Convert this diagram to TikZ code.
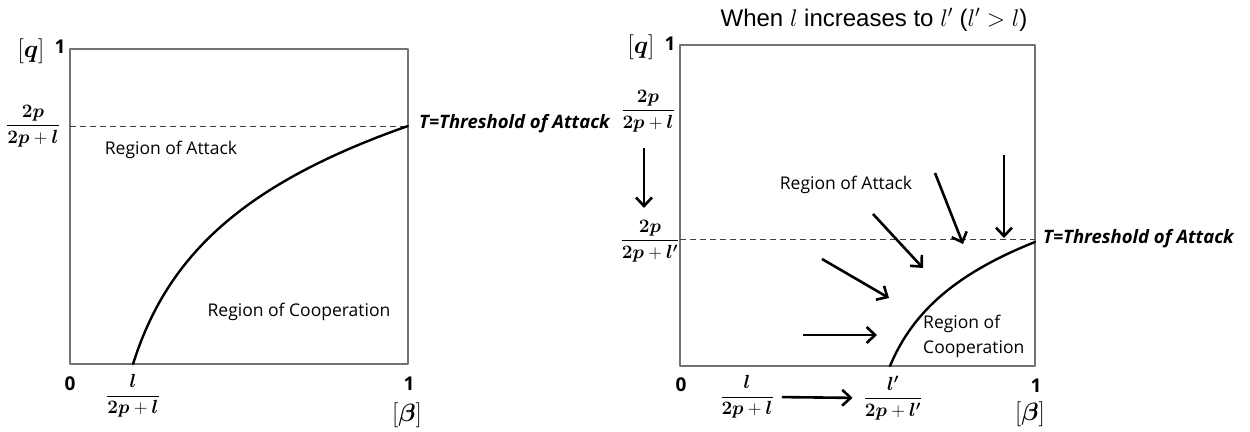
\RequirePackage{fix-cm}
\documentclass[tikz,border=0pt]{standalone}
\usepackage{amsmath,bm}
\usepackage{fontspec}
\setmainfont{Open Sans}
\newfontfamily\arialfont{Liberation Sans}
\usetikzlibrary{arrows.meta}

\tikzset{
  region/.style={anchor=center,inner sep=0pt,font=\fontsize{17.5}{25}\selectfont},
  thresh/.style={anchor=west,inner sep=0pt,font=\fontsize{18.5}{22}\selectfont\bfseries\itshape},
  tick/.style={anchor=center,inner sep=0pt,font=\fontsize{19}{22}\selectfont\bfseries},
  fracl/.style={anchor=center,inner sep=0pt,font=\fontsize{19}{22}\selectfont},
  axisl/.style={anchor=center,inner sep=0pt,font=\fontsize{25}{30}\selectfont},
  frame/.style={draw=black!55,line width=1.2pt},
  thr/.style={draw=black!75,line width=1pt,dash pattern=on 6pt off 4pt},
  curve/.style={line width=2.4pt,line cap=round},
  move/.style={line width=2.6pt,-{Straight Barb[length=8.5pt,width=16pt]}},
}

\begin{document}
\begin{tikzpicture}[x=1pt, y=-1pt, line join=round]

  %% ==== left panel ====
  \draw[frame] (70,49) rectangle (408,364);
  \draw[thr] (70,126) -- (408,126);
  % boundary between attack and cooperation
  \draw[curve] plot[domain=0:1,samples=60,smooth] ({133+275*\x},{364-238*ln(1+8*\x)/ln(9)});

  \node[axisl] (qL) at (31,51) {$[\bm{q}]$};
  \node[tick] (topL) at (60,47) {1};
  \node[fracl] (tauL) at (33,126) {$\dfrac{\bm{2p}}{\bm{2p}+\bm{l}}$};
  \node[region] (attL) at (171,150) {Region of Attack};
  \node[region] (coopL) at (299,312) {Region of Cooperation};
  \node[thresh] (thrL) at (419,124) {T=Threshold of Attack};
  \node[tick] (zeroL) at (70,384) {0};
  \node[fracl] (cutL) at (133,396) {$\dfrac{\bm{l}}{\bm{2p}+\bm{l}}$};
  \node[tick] (oneL) at (409,384) {1};
  \node[axisl] (betaL) at (407,415) {$[\bm{\beta}]$};

  %% ==== right panel ====
  \node[anchor=center,inner sep=0pt,font=\fontsize{24}{28}\selectfont\arialfont] (title) at (874,20)
    {When $l$ increases to $l'$ ($l' > l$)};

  \draw[frame] (680,45) rectangle (1035,366);
  \draw[thr] (680,239) -- (1035,239);
  \draw[curve] plot[domain=0:1,samples=60,smooth] ({890+145*\x},{366-124*ln(1+5*\x)/ln(6)});

  \node[axisl] (qR) at (641,47) {$[\bm{q}]$};
  \node[tick] (topR) at (670,44) {1};
  \node[fracl] (tauR) at (648,111) {$\dfrac{\bm{2p}}{\bm{2p}+\bm{l}}$};
  \node[fracl] (tauRnew) at (650,241) {$\dfrac{\bm{2p}}{\bm{2p}+\bm{l'}}$};
  \draw[move,shorten <=16pt,shorten >=12pt] ([xshift=-4pt]tauR.south) -- ([xshift=-6pt]tauRnew.north);

  \node[region] (attR) at (846,185) {Region of Attack};
  \node[region,anchor=west,align=left] (coopR) at (923,336) {Region of\\Cooperation};
  \node[thresh] (thrR) at (1043,239) {T=Threshold of Attack};

  % arrows pushing the boundary down
  \draw[move] (1004,155) -- (1004,238);
  \draw[move] (935,173) -- (963,244);
  \draw[move] (873,214) -- (923,268);
  \draw[move] (822,259) -- (889,298);
  \draw[move] (803,335) -- (877,335);

  \node[tick] (zeroR) at (681,385) {0};
  \node[fracl] (cutR) at (747,397) {$\dfrac{\bm{l}}{\bm{2p}+\bm{l}}$};
  \node[fracl] (cutRnew) at (893,398) {$\dfrac{\bm{l'}}{\bm{2p}+\bm{l'}}$};
  \draw[move,shorten <=8pt,shorten >=11pt] (cutR.east) -- (cutRnew.west);
  \node[tick] (oneR) at (1036,386) {1};
  \node[axisl] (betaR) at (1030,414) {$[\bm{\beta}]$};

  % fix the canvas
  \pgfresetboundingbox
  \path[use as bounding box] (0,0) rectangle (1250,431);
\end{tikzpicture}
\end{document}
